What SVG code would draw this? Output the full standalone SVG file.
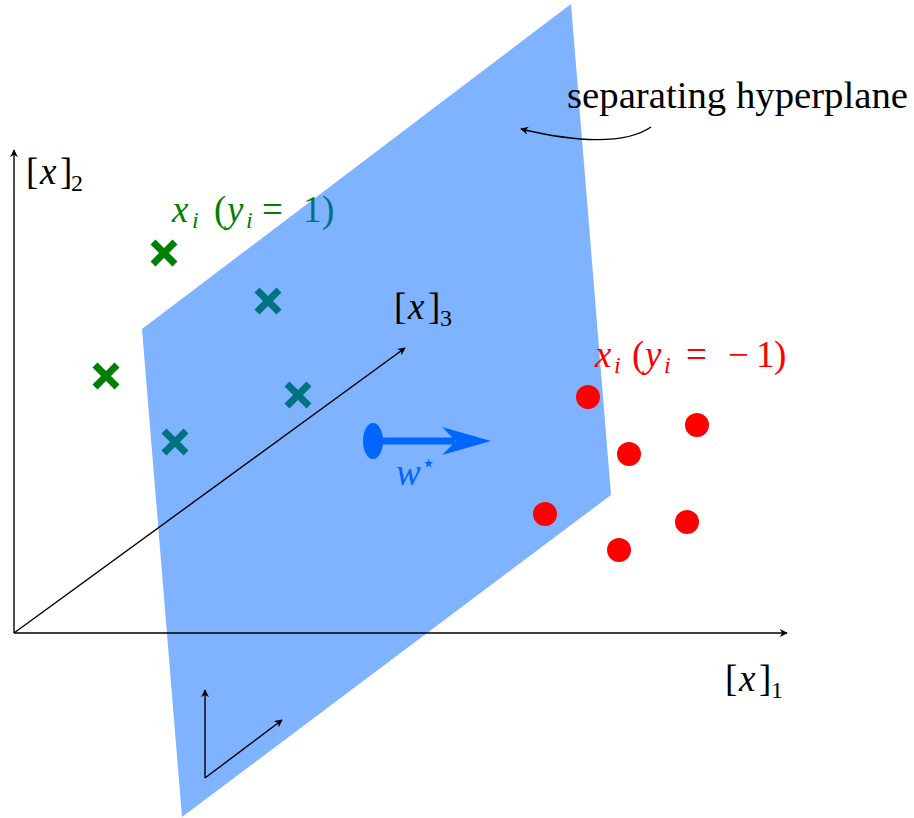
<svg xmlns="http://www.w3.org/2000/svg" width="914" height="818" viewBox="0 0 914 818">
<defs>
<style>
.t{font-family:"Liberation Serif","DejaVu Serif",serif;font-size:37px}
.i{font-style:italic}
.n{font-style:normal}
.s{font-size:24px}
.ax{stroke:#000;stroke-width:1.4;fill:none}
.cr{stroke:#008000;stroke-width:7;stroke-linecap:butt}
.dot{fill:#ff0000}
</style>
<marker id="ah" viewBox="0 0 10 10" refX="9" refY="5" markerWidth="8" markerHeight="8" markerUnits="userSpaceOnUse" orient="auto">
<path d="M0,0 L10,5 L0,10 L3,5 Z" fill="#000"/>
</marker>
</defs>
<rect width="914" height="818" fill="#fff"/>
<g id="label-pos">
<text class="t i" y="222" fill="#008000"><tspan x="172">x</tspan><tspan class="s" x="192" y="228">i</tspan><tspan class="n" x="214" y="222">(</tspan><tspan x="227">y</tspan><tspan class="s" x="246" y="228">i</tspan><tspan class="n" x="262" y="222">=</tspan><tspan class="n" x="303">1</tspan><tspan class="n" x="322">)</tspan></text>
</g>
<g id="crosses">
<path class="cr" d="M153,242 L175,264 M175,242 L153,264"/>
<path class="cr" d="M95,365 L117,387 M117,365 L95,387"/>
<path class="cr" d="M257,290 L279,312 M279,290 L257,312"/>
<path class="cr" d="M287,384 L309,406 M309,384 L287,406"/>
<path class="cr" d="M164,431 L186,453 M186,431 L164,453"/>
</g>
<g id="hyperplane">
<polygon points="142,329 571,4 611,495 182,817" fill="#0066ff" fill-opacity="0.5"/>
</g>
<g id="connectors">
<line class="ax" x1="14" y1="633" x2="787" y2="633" marker-end="url(#ah)"/>
<line class="ax" x1="14" y1="633" x2="14" y2="150" marker-end="url(#ah)"/>
<line class="ax" x1="14" y1="633" x2="405" y2="348" marker-end="url(#ah)"/>
<line class="ax" x1="205" y1="778" x2="205" y2="690" marker-end="url(#ah)"/>
<line class="ax" x1="205" y1="778" x2="282" y2="720" marker-end="url(#ah)"/>
<path class="ax" d="M651,127 C625,145 575,142 521,129" marker-end="url(#ah)"/>
</g>
<g id="w-star">
<ellipse cx="373" cy="441" rx="10" ry="18" fill="#0066ff"/>
<line x1="373" y1="441" x2="455" y2="441" stroke="#0066ff" stroke-width="7"/>
<path d="M491,441 L442,427 L456,441 L442,455 Z" fill="#0066ff"/>
<text class="t i" x="396" y="485" fill="#0066ff">w<tspan class="s n" x="421" y="471">⋆</tspan></text>
</g>
<g id="dots">
<circle class="dot" cx="588" cy="397" r="12"/>
<circle class="dot" cx="697" cy="425" r="12"/>
<circle class="dot" cx="629" cy="454" r="12"/>
<circle class="dot" cx="545" cy="514" r="12"/>
<circle class="dot" cx="687" cy="522" r="12"/>
<circle class="dot" cx="619" cy="550" r="12"/>
</g>
<g id="labels">
<text class="t" x="567" y="108" font-size="30" textLength="341" lengthAdjust="spacingAndGlyphs">separating hyperplane</text>
<text class="t i" y="367" fill="#ff0000"><tspan x="595">x</tspan><tspan class="s" x="614" y="373">i</tspan><tspan class="n" x="632" y="367">(</tspan><tspan x="645">y</tspan><tspan class="s" x="664" y="373">i</tspan><tspan class="n" x="686" y="367">=</tspan><tspan class="n" x="728">−</tspan><tspan class="n" x="756">1</tspan><tspan class="n" x="774">)</tspan></text>
<text class="t" y="184"><tspan x="26">[</tspan><tspan class="i" x="40">x</tspan><tspan x="60">]</tspan><tspan class="s" x="71" y="191">2</tspan></text>
<text class="t" y="319"><tspan x="394">[</tspan><tspan class="i" x="408">x</tspan><tspan x="428">]</tspan><tspan class="s" x="440" y="326">3</tspan></text>
<text class="t" y="691"><tspan x="725">[</tspan><tspan class="i" x="739">x</tspan><tspan x="759">]</tspan><tspan class="s" x="771" y="698">1</tspan></text>
</g>
</svg>
